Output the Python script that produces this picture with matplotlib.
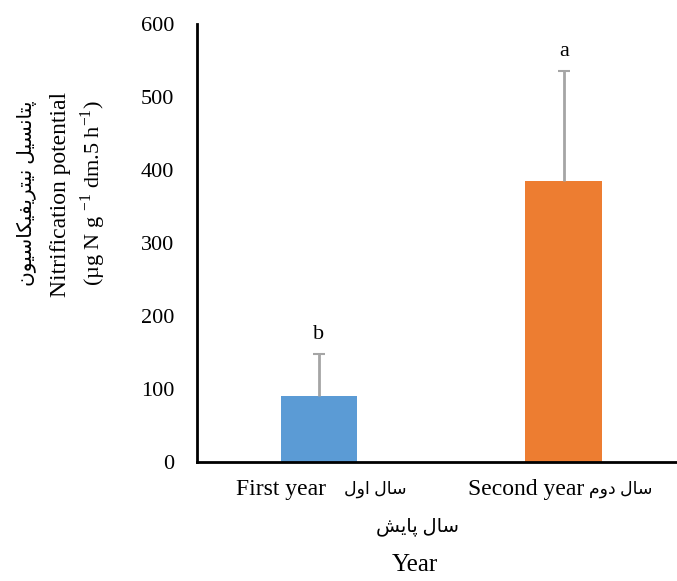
import numpy as np
import matplotlib.pyplot as plt

plt.rcParams['font.family'] = ['Liberation Serif', 'DejaVu Sans']
plt.rcParams['mathtext.fontset'] = 'custom'
plt.rcParams['mathtext.rm'] = 'Liberation Serif'

# data
categories = ["First year", "Second year"]
# Persian labels, written in presentation forms and visual order
cat_fa = ["\uFEDD\uFEED\uFE8D \uFEDD\uFE8E\uFEB3",      # سال اول
          "\uFEE1\uFEED\uFEA9 \uFEDD\uFE8E\uFEB3"]      # سال دوم
values = [91, 385]
errors = [57, 151]
letters = ["b", "a"]
colors = ["#5B9BD5", "#ED7D31"]
xlabel_fa = "\uFEB6\uFBFE\uFE8E\uFB58 \uFEDD\uFE8E\uFEB3"   # سال پایش
ylabel_fa = ("\uFEE5\uFEEE\uFBFF\uFEB3\uFE8E\uFB91\uFBFF\uFED4\uFBFE\uFEAE\uFE98\uFBFF\uFEE7 "
             "\uFEDE\uFBFF\uFEB4\uFEE7\uFE8E\uFE98\uFB58")   # پتانسیل نیتریفیکاسیون

fig = plt.figure(figsize=(6.77, 5.81), dpi=100)
ax = fig.add_axes([0.2905, 0.204, 0.7095, 0.7547])

x = np.arange(len(categories))
ax.bar(x, values, width=0.313, color=colors, zorder=2)
eb = ax.errorbar(x, values, yerr=[np.zeros(len(values)), errors], fmt='none',
                 ecolor='#A5A5A5', elinewidth=2, capsize=4.3, capthick=1.5, zorder=3)
eb[1][0].set_visible(False)
eb[1][1].set_color('#595959')

for xi, v, e, l in zip(x, values, errors, letters):
    ax.text(xi, v + e + 14, l, ha='center', va='bottom', fontsize=16)

ax.set_xlim(-0.5, 1.463)
ax.set_ylim(0, 600)
ax.set_yticks(np.arange(0, 601, 100))
ax.tick_params(axis='y', length=0, labelsize=16, pad=16)
ax.tick_params(axis='x', length=0)
ax.set_xticks([])
for s in ['top', 'right']:
    ax.spines[s].set_visible(False)
for s in ['left', 'bottom']:
    ax.spines[s].set_linewidth(2)

tr = ax.get_xaxis_transform()
for xi, en, fa in zip(x, categories, cat_fa):
    ax.text(xi - 0.155, -0.062, en, transform=tr, ha='center', va='center', fontsize=17)
    ax.text(xi + 0.232, -0.062, fa, transform=tr, ha='center', va='center', fontsize=12.5)

fig.text(0.616, 0.094, xlabel_fa, ha='center', va='center', fontsize=14)
fig.text(0.613, 0.027, "Year", ha='center', va='center', fontsize=18)

fig.text(0.040, 0.668, ylabel_fa, rotation=90, ha='center', va='center', fontsize=14.5)
fig.text(0.089, 0.665, "Nitrification potential", rotation=90, ha='center', va='center', fontsize=17)
fig.text(0.137, 0.668, r"(µg N g $^{\mathregular{-1}}$ dm.5 h$^{\mathregular{-1}}$)",
         rotation=90, ha='center', va='center', fontsize=16)

fig.savefig("out.png", dpi=100)
